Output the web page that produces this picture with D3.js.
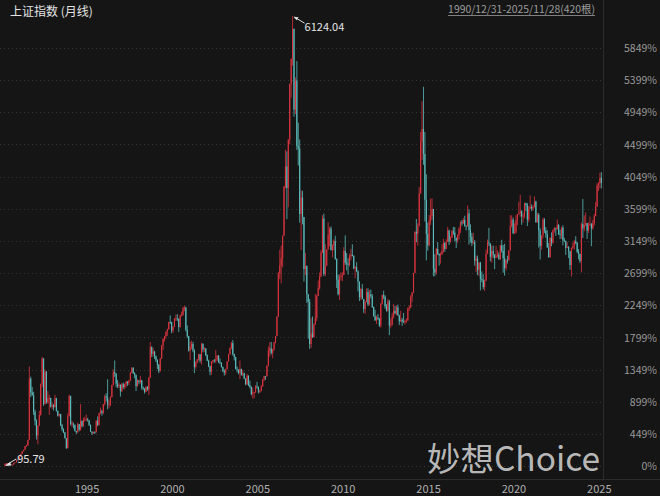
<!DOCTYPE html>
<html><head><meta charset="utf-8">
<script src="https://cdn.jsdelivr.net/npm/d3@7"></script>
<style>html,body{margin:0;padding:0;background:#151515;}svg{display:block;}</style>
</head><body>
<script>
// Shanghai Composite monthly candles, 1990-12 .. 2025-11 (420 bars)
const opens = [96,
128,130,134,120,114,115,138,145,181,180,219,260,
293,313,364,370,446,1266,1081,1042,823,703,503,637,
780,1197,1537,926,1359,950,1007,1007,891,911,885,1003,
834,770,792,641,588,546,468,334,764,1033,657,663,
648,563,549,656,582,701,631,713,718,720,708,647,
555,537,550,546,701,644,806,831,808,925,1026,1011,
917,917,1018,1182,1353,1335,1199,1166,1183,1097,1191,1151,
1194,1222,1207,1243,1343,1411,1339,1314,1165,1241,1220,1244,
1147,1135,1090,1158,1121,1279,1689,1601,1628,1567,1513,1453,
1367,1535,1715,1800,1836,1895,1928,2024,2023,1910,1961,2071,
2073,2066,1959,2113,2119,2214,2218,1920,1834,1642,1690,1730,
1646,1423,1486,1525,1593,1508,1733,1657,1669,1582,1507,1434,
1358,1500,1512,1511,1521,1576,1486,1477,1422,1367,1348,1397,
1497,1591,1675,1742,1596,1556,1399,1386,1342,1397,1321,1341,
1267,1192,1306,1181,1159,1061,1081,1083,1163,1156,1093,1099,
1161,1258,1299,1298,1440,1641,1672,1613,1659,1752,1838,2099,
2675,2786,2881,3184,3841,4110,3821,4471,5219,5552,5955,4872,
5262,4383,4349,3473,3693,3433,2736,2776,2397,2294,1729,1871,
1821,1991,2083,2373,2478,2633,2959,3412,2668,2779,2996,3195,
3277,2989,3052,3109,2871,2592,2398,2638,2639,2656,2979,2820,
2808,2791,2905,2928,2912,2743,2762,2702,2567,2359,2468,2333,
2199,2293,2428,2263,2396,2372,2225,2104,2048,2086,2069,1980,
2269,2385,2366,2237,2178,2301,1979,1994,2098,2175,2142,2221,
2116,2033,2056,2033,2026,2039,2048,2202,2217,2364,2420,2683,
3235,3210,3310,3748,4442,4612,4277,3664,3206,3053,3383,3445,
3539,2738,2688,3004,2938,2917,2930,2979,3085,3005,3100,3250,
3104,3159,3242,3223,3155,3117,3192,3273,3361,3349,3393,3317,
3307,3481,3259,3169,3082,3095,2847,2876,2725,2821,2603,2588,
2494,2585,2941,3091,3078,2899,2979,2933,2886,2905,2929,2872,
3050,2977,2880,2750,2860,2852,2985,3310,3396,3218,3225,3392,
3473,3483,3509,3442,3447,3615,3591,3397,3544,3568,3547,3564,
3640,3361,3462,3252,3047,3186,3399,3253,3202,3024,2893,3151,
3089,3256,3280,3273,3323,3205,3202,3291,3120,3110,3019,3030,
2975,2789,3015,3041,3105,3087,2967,2939,2842,3337,3280,3326,
3352,3251,3321,3336,3279,3347,3444,3573,3858,3883,3955];

const highs = [128,
135,134,134,120,115,138,145,181,192,219,260,293,
313,364,382,446,1429,1293,1155,1090,850,720,640,835,
1200,1559,1540,1393,1370,1100,1050,1010,945,925,1050,1010,
840,800,795,660,600,550,470,800,1053,1040,700,680,
650,565,675,660,926,705,745,755,785,740,710,650,
560,560,560,710,760,810,880,850,930,1050,1070,1258,
985,1030,1185,1392,1510,1340,1250,1215,1190,1210,1215,1200,
1240,1235,1250,1360,1422,1420,1350,1320,1260,1245,1300,1250,
1160,1140,1160,1165,1285,1756,1700,1680,1640,1575,1525,1460,
1545,1720,1810,1840,1900,1935,2030,2114,2030,1970,2075,2125,
2132,2075,2125,2165,2232,2245,2230,1980,1840,1760,1776,1760,
1660,1500,1530,1600,1595,1748,1740,1690,1675,1590,1520,1440,
1500,1515,1530,1650,1580,1580,1535,1485,1430,1390,1400,1497,
1600,1685,1760,1783,1600,1560,1430,1390,1510,1400,1380,1345,
1270,1330,1310,1240,1160,1146,1090,1180,1224,1160,1120,1180,
1260,1306,1300,1445,1700,1757,1758,1665,1760,1840,2100,2698,
2995,3050,3184,3850,4335,4312,4472,5219,5555,6124.04,5956,5303,
5523,4696,4473,3787,3786,3434,2952,2783,2399,2334,2076,2100,
2007,2402,2390,2580,2689,2990,3455,3478,3068,3001,3361,3300,
3307,3065,3133,3181,2879,2660,2664,2690,2692,3029,3186,2950,
2880,2940,3007,3067,2920,2775,2827,2720,2567,2485,2536,2335,
2311,2478,2478,2454,2461,2400,2233,2190,2110,2132,2081,2280,
2394,2445,2385,2265,2335,2321,2070,2150,2270,2243,2245,2260,
2124,2177,2080,2147,2057,2075,2222,2250,2383,2429,2683,3239,
3406,3348,3835,4572,4986,5178,4572,4006,3356,3459,3679,3684,
3539,2934,3019,3097,2945,2958,3070,3140,3096,3132,3301,3264,
3174,3261,3301,3296,3155,3201,3301,3376,3392,3419,3450,3317,
3587,3534,3335,3220,3220,3124,2915,2916,2828,2832,2703,2667,
2597,2997,3130,3288,3078,3052,3049,2938,3047,2987,2960,3062,
3127,3058,3074,2861,2914,2990,3458,3455,3425,3348,3457,3474,
3637,3732,3525,3480,3625,3626,3620,3580,3723,3600,3592,3709,
3652,3491,3485,3282,3187,3424,3418,3297,3255,3085,3163,3227,
3269,3300,3290,3398,3340,3263,3300,3322,3154,3118,3097,3043,
2977,3024,3092,3124,3175,3097,3003,2939,3358,3674,3454,3495,
3352,3362,3439,3354,3391,3475,3636,3884,3899,4025,4034];

const lows = [95.79,
128,130,120,105,104,115,138,145,178,180,219,260,
293,313,355,370,446,1020,1040,780,640,450,387,630,
770,1150,900,920,930,930,780,880,860,840,880,825,
760,750,630,560,535,465,326,334,760,640,620,600,
560,525,540,560,570,610,620,690,700,690,630,555,
512,525,525,545,630,640,790,770,790,905,960,855,
870,900,1015,1175,1290,1150,1140,1140,1025,1090,1130,1120,
1150,1170,1180,1240,1340,1330,1270,1100,1160,1190,1200,1120,
1110,1065,1085,1105,1047,1275,1555,1560,1530,1490,1395,1341,
1361,1530,1650,1765,1800,1840,1925,2000,1875,1880,1955,2040,
2040,1893,1950,2100,2110,2170,1900,1810,1630,1514,1660,1620,
1340,1400,1470,1510,1480,1455,1620,1620,1570,1500,1420,1311,
1320,1470,1480,1480,1500,1480,1460,1415,1355,1307,1316,1390,
1495,1590,1660,1575,1510,1390,1350,1325,1260,1305,1300,1259,
1177,1180,1165,1136,1043,998,1004,1075,1130,1067,1074,1098,
1160,1235,1250,1296,1430,1560,1590,1541,1640,1740,1836,2095,
2600,2542,2760,3180,3816,3404,3563,4406,5032,5462,4778,4812,
4330,4123,3358,2991,3334,2567,2654,2284,1802,1665,1679,1814,
1820,1991,2037,2373,2461,2630,2947,2640,2639,2779,2995,3039,
2986,2890,2984,2860,2481,2382,2319,2583,2573,2656,2791,2718,
2661,2771,2849,2904,2732,2611,2700,2437,2307,2319,2330,2149,
2132,2291,2242,2244,2342,2215,2098,2040,1999,2050,1959,1949,
2259,2331,2205,2165,2167,1849,1951,1977,2075,2128,2113,2111,
1984,2030,1975,2014,1991,2010,2040,2173,2210,2293,2413,2677,
3095,3050,3307,3748,4198,4133,3373,2851,2983,3039,3327,3397,
2638,2639,2660,2923,2781,2808,2929,2953,2968,3002,3100,3057,
3087,3149,3194,3105,3017,3086,3132,3220,3316,3339,3302,3254,
3307,3063,3091,3041,3068,2782,2691,2653,2644,2449,2557,2463,
2440,2573,2939,3043,2838,2822,2882,2733,2880,2891,2857,2857,
2955,2686,2647,2719,2810,2852,2985,3293,3202,3206,3215,3325,
3463,3435,3328,3356,3416,3512,3312,3364,3543,3512,3519,3564,
3357,3357,3023,2864,2996,3144,3219,3155,3022,2886,2893,3040,
3074,3223,3179,3262,3190,3135,3140,3053,3100,2924,3015,2882,
2725,2635,3002,2995,3068,2948,2865,2815,2690,3152,3240,3309,
3140,3219,3312,3040,3265,3317,3444,3569,3780,3816,3816];

const closes = [128,
130,134,120,114,115,138,145,181,180,219,260,293,
313,364,370,446,1266,1081,1042,823,703,503,637,780,
1197,1537,926,1359,950,1007,1007,891,911,885,1003,834,
770,792,641,588,546,468,334,764,1033,657,663,648,
563,549,656,582,701,631,713,718,720,708,647,555,
537,550,546,701,644,806,831,808,925,1026,1011,917,
917,1018,1182,1353,1335,1199,1166,1183,1097,1191,1151,1194,
1222,1207,1243,1343,1411,1339,1314,1165,1241,1220,1244,1147,
1135,1090,1158,1121,1279,1689,1601,1628,1567,1513,1453,1367,
1535,1715,1800,1836,1895,1928,2024,2023,1910,1961,2071,2073,
2066,1959,2113,2119,2214,2218,1920,1834,1642,1690,1730,1646,
1423,1486,1525,1593,1508,1733,1657,1669,1582,1507,1434,1358,
1500,1512,1511,1521,1576,1486,1477,1422,1367,1348,1397,1497,
1591,1675,1742,1596,1556,1399,1386,1342,1397,1321,1341,1267,
1192,1306,1181,1159,1061,1081,1083,1163,1156,1093,1099,1161,
1258,1299,1298,1440,1641,1672,1613,1659,1752,1838,2099,2675,
2786,2881,3184,3841,4110,3821,4471,5219,5552,5955,4872,5262,
4383,4349,3473,3693,3433,2736,2776,2397,2294,1729,1871,1821,
1991,2083,2373,2478,2633,2959,3412,2668,2779,2996,3195,3277,
2989,3052,3109,2871,2592,2398,2638,2639,2656,2979,2820,2808,
2791,2905,2928,2912,2743,2762,2702,2567,2359,2468,2333,2199,
2293,2428,2263,2396,2372,2225,2104,2048,2086,2069,1980,2269,
2385,2366,2237,2178,2301,1979,1994,2098,2175,2142,2221,2116,
2033,2056,2033,2026,2039,2048,2202,2217,2364,2420,2683,3235,
3210,3310,3748,4442,4612,4277,3664,3206,3053,3383,3445,3539,
2738,2688,3004,2938,2917,2930,2979,3085,3005,3100,3250,3104,
3159,3242,3223,3155,3117,3192,3273,3361,3349,3393,3317,3307,
3481,3259,3169,3082,3095,2847,2876,2725,2821,2603,2588,2494,
2585,2941,3091,3078,2899,2979,2933,2886,2905,2929,2872,3050,
2977,2880,2750,2860,2852,2985,3310,3396,3218,3225,3392,3473,
3483,3509,3442,3447,3615,3591,3397,3544,3568,3547,3564,3640,
3361,3462,3252,3047,3186,3399,3253,3202,3024,2893,3151,3089,
3256,3280,3273,3323,3205,3202,3291,3120,3110,3019,3030,2975,
2789,3015,3041,3105,3087,2967,2939,2842,3337,3280,3326,3352,
3251,3321,3336,3279,3347,3444,3573,3858,3883,3955,3889];

const tickPercents = [0,449,899,1349,1799,2249,2699,3149,3599,4049,4499,4949,5399,5849];
const yearLabels = [1995,2000,2005,2010,2015,2020,2025];
const titleText = "上证指数 (月线)";
const rangeText = "1990/12/31-2025/11/28(420根)";
const watermark = "妙想Choice";
const basePrice = 95.79;

// month categories
const months = d3.timeMonth.range(new Date(1990,11,1), new Date(2025,11,1));
if (months.length !== 420 || opens.length !== 420 || highs.length !== 420 || lows.length !== 420 || closes.length !== 420)
  throw new Error("length mismatch " + [months.length, opens.length, highs.length, lows.length, closes.length]);

const data = months.map((m,i)=>({i, m, o:opens[i], h:highs[i], l:lows[i], c:closes[i]}));

const W=660, H=496;
const svg = d3.select("body").append("svg").attr("width",W).attr("height",H);
svg.append("rect").attr("width",W).attr("height",H).attr("fill","#151515");

const font = "'Noto Sans CJK SC','Noto Sans',sans-serif";
const x = d3.scaleBand().domain(d3.range(420)).range([4.6, 601.9]).paddingInner(0.22);
const hiMax = d3.max(highs), loMin = d3.min(lows);
const y = d3.scaleLinear().domain([loMin, hiMax]).range([466, 16.2]);

// gridlines
const tickVals = tickPercents.map(p => basePrice*(1+p/100));
svg.append("g").selectAll("line").data(tickVals).join("line")
  .attr("x1",0).attr("x2",603).attr("y1",d=>Math.round(y(d))+0.5).attr("y2",d=>Math.round(y(d))+0.5)
  .attr("stroke","#363636").attr("stroke-dasharray","1,3").attr("stroke-width",1);

// frame lines
svg.append("line").attr("x1",603.5).attr("x2",603.5).attr("y1",0).attr("y2",479).attr("stroke","#2c2c2c");
svg.append("line").attr("x1",0).attr("x2",W).attr("y1",479.5).attr("y2",479.5).attr("stroke","#2c2c2c");

// candles
const up = "#d9343f", down = "#5cbcbc";
const bw = x.bandwidth();
const g = svg.append("g");
g.selectAll("line.wick").data(data).join("line").attr("class","wick")
  .attr("x1",d=>x(d.i)+bw/2).attr("x2",d=>x(d.i)+bw/2)
  .attr("y1",d=>y(d.h)).attr("y2",d=>y(d.l))
  .attr("stroke",d=>d.c>=d.o?up:down).attr("stroke-width",0.8);
g.selectAll("rect.body").data(data).join("rect").attr("class","body")
  .attr("x",d=>x(d.i)).attr("width",bw)
  .attr("y",d=>y(Math.max(d.o,d.c))).attr("height",d=>Math.max(0.8, Math.abs(y(d.o)-y(d.c))))
  .attr("fill",d=>d.c>=d.o?up:down);

// y axis (right)
const yAxis = d3.axisRight(y).tickValues(tickVals).tickFormat((d,i)=>tickPercents[i]+"%").tickSize(0);
const ya = svg.append("g").attr("transform","translate(657,0)").call(yAxis);
ya.select(".domain").remove();
ya.selectAll("text").attr("x",0).attr("dy","0.35em").attr("text-anchor","end")
  .attr("fill","#9a9a9a").style("font-family",font).style("font-size","10.5px");

// x axis (bottom)
const janIdx = yearLabels.map(yr => months.findIndex(m => m.getFullYear()===yr && m.getMonth()===0));
const xAxis = d3.axisBottom(x).tickValues(janIdx).tickFormat((d,i)=>yearLabels[i]).tickSize(0);
const xa = svg.append("g").attr("transform","translate(0,485)").call(xAxis);
xa.select(".domain").remove();
xa.selectAll("text").attr("y",0).attr("dy","0.75em").attr("text-anchor","start")
  .attr("fill","#b0b0b0").style("font-family",font).style("font-size","11px");

// annotations
const iMax = highs.indexOf(hiMax), iMin = lows.indexOf(loMin);
const px = x(iMax)+bw/2, py = y(hiMax);
svg.append("path").attr("d",`M${px+2},${py+1}L${px+12},${py+7}`).attr("stroke","#e0e0e0").attr("stroke-width",1).attr("fill","none");
svg.append("path").attr("d",`M${px+1},${py+0.5}L${px+6},${py+1}L${px+4},${py+4}Z`).attr("fill","#e0e0e0");
svg.append("text").attr("x",px+12).attr("y",py+15).text(hiMax.toFixed(2))
  .attr("fill","#e6e6e6").style("font-family",font).style("font-size","11px");
const lx = x(iMin)+bw/2, ly = y(loMin);
svg.append("path").attr("d",`M${lx+1},${ly-1}L${lx+11},${ly-7}`).attr("stroke","#e0e0e0").attr("stroke-width",1).attr("fill","none");
svg.append("path").attr("d",`M${lx},${ly}L${lx+5},${ly-4}L${lx+6},${ly-0.5}Z`).attr("fill","#e0e0e0");
svg.append("text").attr("x",lx+12).attr("y",ly-3).text(loMin.toFixed(2))
  .attr("fill","#e6e6e6").style("font-family",font).style("font-size","11px");

// title & range
svg.append("text").attr("x",10).attr("y",16).text(titleText)
  .attr("fill","#e4e4e4").style("font-family",font).style("font-size","12px");
const rt = svg.append("text").attr("x",595).attr("y",13).attr("text-anchor","end").text(rangeText)
  .attr("fill","#9c9c9c").style("font-family",font).style("font-size","10.4px");
const bb = rt.node().getBBox();
svg.append("line").attr("x1",bb.x).attr("x2",bb.x+bb.width).attr("y1",15.5).attr("y2",15.5).attr("stroke","#9c9c9c").attr("stroke-width",0.8);

// watermark
svg.append("text").attr("x",427).attr("y",471).text(watermark)
  .attr("fill","#cfcfcf").attr("fill-opacity",0.9).style("font-family",font).style("font-size","33.5px");
</script>
</body></html>
